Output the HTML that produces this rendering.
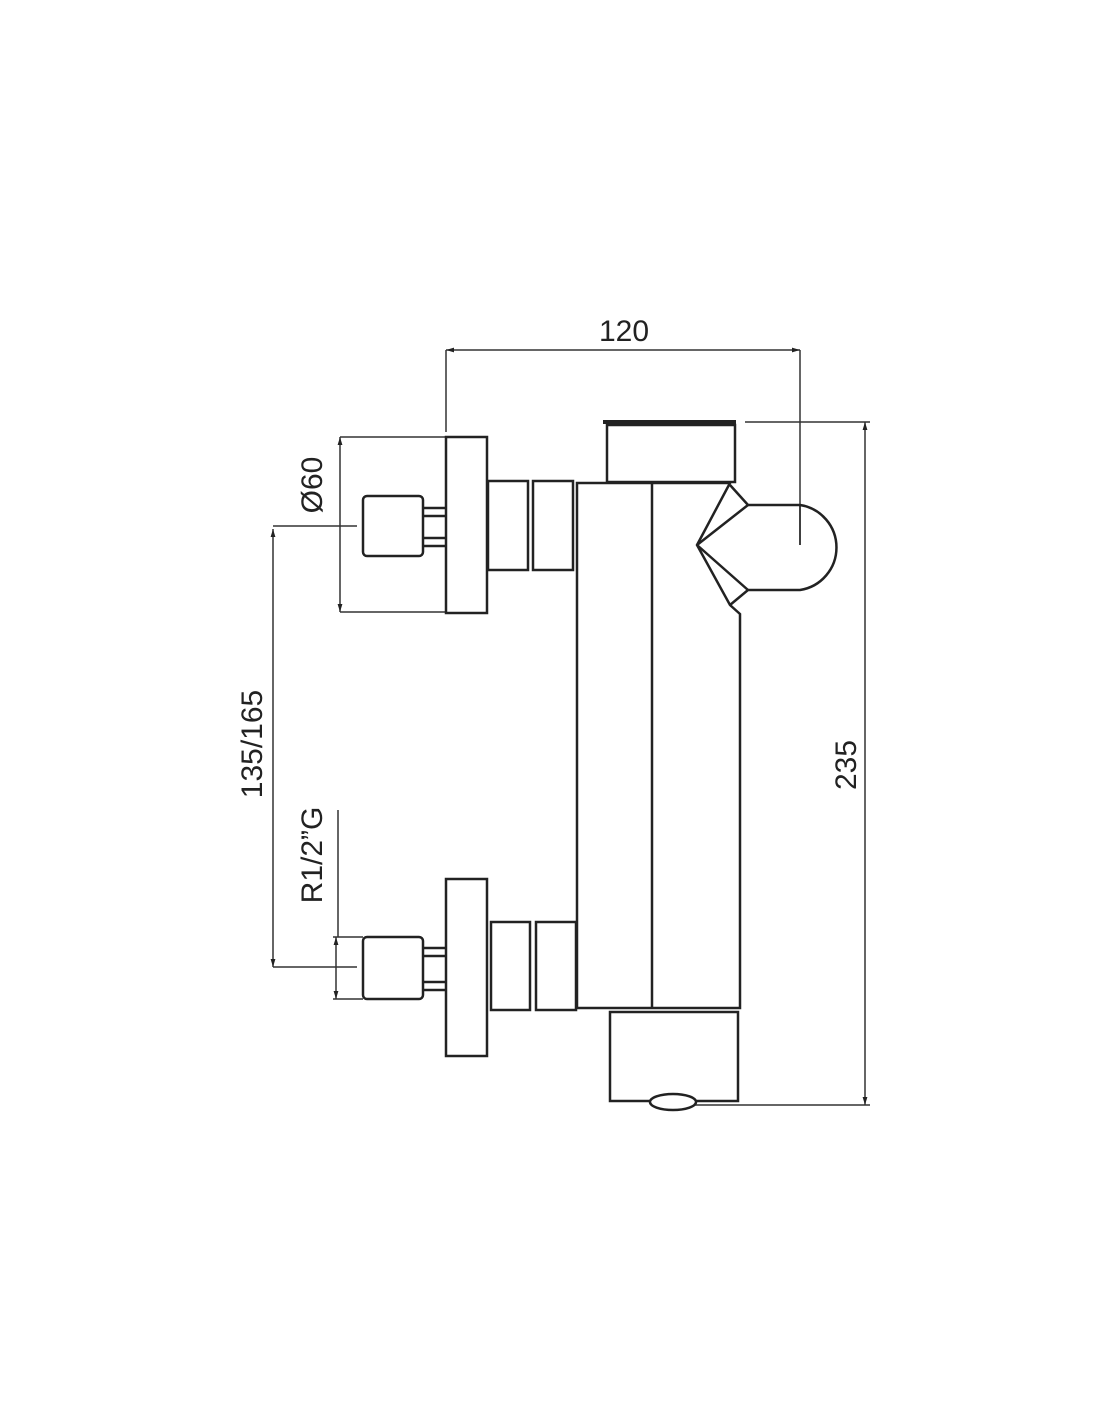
<!DOCTYPE html>
<html><head><meta charset="utf-8"><style>html,body{margin:0;padding:0;background:#fff}svg{display:block}</style></head>
<body>
<svg width="1100" height="1422" viewBox="0 0 1100 1422" xmlns="http://www.w3.org/2000/svg" font-family="Liberation Sans, sans-serif">
<defs>
<marker id="a" viewBox="0 0 10 10" refX="10" refY="5" markerWidth="10" markerHeight="8" orient="auto-start-reverse" markerUnits="userSpaceOnUse"><path d="M0,2 L10,5 L0,8 z" fill="#222"/></marker>
</defs>
<g stroke="#333" stroke-width="1.5" fill="none">
<line x1="446" y1="350" x2="800" y2="350" marker-start="url(#a)" marker-end="url(#a)"/>
<line x1="446" y1="350" x2="446" y2="432"/>
<line x1="800" y1="350" x2="800" y2="545"/>
<line x1="865" y1="422" x2="865" y2="1105" marker-start="url(#a)" marker-end="url(#a)"/>
<line x1="745" y1="422" x2="870" y2="422"/>
<line x1="695" y1="1105" x2="870" y2="1105"/>
<line x1="340" y1="437" x2="340" y2="612" marker-start="url(#a)" marker-end="url(#a)"/>
<line x1="340" y1="437" x2="446" y2="437"/>
<line x1="340" y1="612" x2="446" y2="612"/>
<line x1="273" y1="529" x2="273" y2="967" marker-start="url(#a)" marker-end="url(#a)"/>
<line x1="273" y1="526" x2="357" y2="526"/>
<line x1="273" y1="967" x2="357" y2="967"/>
<line x1="338" y1="810" x2="338" y2="937"/>
<line x1="336" y1="937" x2="336" y2="999" marker-start="url(#a)" marker-end="url(#a)"/>
<line x1="333" y1="937" x2="363" y2="937"/>
<line x1="333" y1="999" x2="363" y2="999"/>
</g>
<g stroke="#222" stroke-width="2.5" fill="#fff">
<rect x="446" y="437" width="41" height="176"/>
<rect x="363" y="496" width="60" height="60" rx="4"/>
<line x1="423" y1="508" x2="446" y2="508"/><line x1="423" y1="516" x2="446" y2="516"/>
<line x1="423" y1="538" x2="446" y2="538"/><line x1="423" y1="546" x2="446" y2="546"/>
<rect x="488" y="481" width="40" height="89"/>
<rect x="533" y="481" width="40" height="89"/>
<rect x="446" y="879" width="41" height="177"/>
<rect x="363" y="937" width="60" height="62" rx="4"/>
<line x1="423" y1="948" x2="446" y2="948"/><line x1="423" y1="956" x2="446" y2="956"/>
<line x1="423" y1="982" x2="446" y2="982"/><line x1="423" y1="990" x2="446" y2="990"/>
<rect x="491" y="922" width="39" height="88"/>
<rect x="536" y="922" width="40" height="88"/>
<path d="M577,483 L730,483 L697,545 L730,605 L740,614 L740,1008 L577,1008 Z"/>
<line x1="652" y1="483" x2="652" y2="1008"/>
<rect x="607" y="425" width="128" height="57"/>
<line x1="603" y1="422" x2="736" y2="422" stroke-width="4"/>
<path d="M730,485 L748,505 L800,505 A43,43 0 0 1 800,590 L748,590 L730,605" fill="none"/>
<path d="M697,545 L748,505 M697,545 L748,590" fill="none"/>
<line x1="800" y1="505" x2="800" y2="545" stroke-width="1.5"/>
<rect x="610" y="1012" width="128" height="89"/>
<ellipse cx="673" cy="1102" rx="23" ry="8"/>
</g>
<g fill="#222" font-size="30">
<text x="624" y="341" text-anchor="middle">120</text>
<text transform="translate(856,765) rotate(-90)" text-anchor="middle">235</text>
<text transform="translate(322,485) rotate(-90)" text-anchor="middle">Ø60</text>
<text transform="translate(262,744) rotate(-90)" text-anchor="middle">135/165</text>
<text transform="translate(322,855) rotate(-90)" text-anchor="middle">R1/2”G</text>
</g>
</svg>
</body></html>
